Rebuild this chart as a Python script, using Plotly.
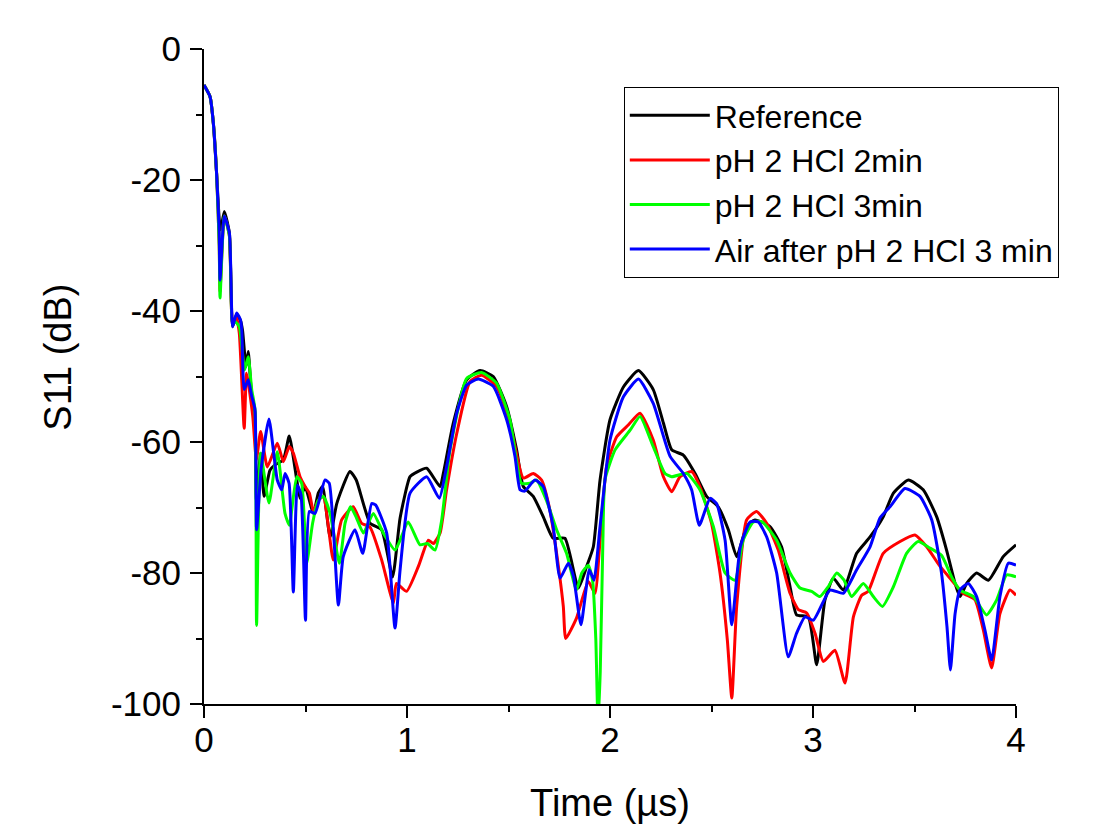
import plotly.graph_objects as go

# ---- data (Time in µs, S11 in dB) ----
ref_x = [0, 0.03, 0.046, 0.062, 0.075, 0.082, 0.1, 0.125, 0.141, 0.161, 0.18, 0.19, 0.207, 0.218, 0.235, 0.251,
         0.258, 0.279, 0.296, 0.325, 0.35, 0.391, 0.42, 0.457, 0.473, 0.498, 0.539, 0.563, 0.584, 0.621, 0.654,
         0.719, 0.75, 0.818, 0.875, 0.929, 0.966, 1.015, 1.048, 1.097, 1.163, 1.179, 1.228, 1.294, 1.36, 1.425,
         1.491, 1.54, 1.573, 1.622, 1.671, 1.72, 1.778, 1.844, 1.885, 1.918, 1.951, 2.0, 2.066, 2.14, 2.213,
         2.263, 2.304, 2.361, 2.419, 2.476, 2.533, 2.583, 2.624, 2.673, 2.714, 2.788, 2.845, 2.887, 2.919,
         2.977, 3.018, 3.059, 3.1, 3.149, 3.215, 3.281, 3.346, 3.396, 3.47, 3.543, 3.609, 3.658, 3.7, 3.724,
         3.757, 3.806, 3.864, 3.937, 4.0]
ref_y = [-5.5, -7.3, -11.3, -19, -26, -27.6, -24.8, -28.1, -42.4, -40.5, -41.5, -43, -48.5, -46.2, -53.1, -55.5,
         -68.9, -61.7, -68.3, -64.3, -63.5, -62.7, -59.1, -65.8, -68.6, -66.8, -70.9, -67.8, -66.8, -74.5, -69.4,
         -64.5, -65.8, -72.4, -73.4, -80.6, -71.6, -65.3, -64.6, -64, -66.8, -64.8, -57.1, -50.5, -49.1, -50,
         -54.6, -61.2, -66.8, -68.3, -71.4, -74.7, -74.7, -82.3, -79, -76, -65.8, -56.6, -51.6, -49.1, -52,
         -57.1, -61.2, -62, -64.8, -68.3, -69.9, -73.4, -77.5, -72.9, -71.9, -72.9, -76, -82.1, -86.4,
         -86.7, -94, -84.1, -80.8, -82.6, -77, -74.5, -71.4, -67.8, -65.8, -67.3, -71.4, -76.5, -81.6, -83.6,
         -81.6, -80, -81.1, -77.5, -75.7]

hcl2_x = [0, 0.03, 0.046, 0.062, 0.075, 0.079, 0.1, 0.125, 0.141, 0.16, 0.174, 0.198, 0.21, 0.24, 0.258, 0.279,
          0.312, 0.361, 0.391, 0.42, 0.44, 0.473, 0.498, 0.519, 0.539, 0.563, 0.588, 0.637, 0.678, 0.735, 0.776,
          0.818, 0.875, 0.933, 0.948, 0.998, 1.056, 1.105, 1.13, 1.163, 1.195, 1.245, 1.31, 1.367, 1.441, 1.507,
          1.573, 1.622, 1.663, 1.704, 1.737, 1.77, 1.782, 1.835, 1.893, 1.926, 1.951, 1.983, 2.033, 2.09, 2.148,
          2.213, 2.263, 2.304, 2.345, 2.402, 2.443, 2.5, 2.542, 2.578, 2.6, 2.624, 2.673, 2.722, 2.772, 2.829,
          2.887, 2.928, 2.969, 3.01, 3.051, 3.108, 3.158, 3.199, 3.24, 3.272, 3.346, 3.429, 3.502, 3.56, 3.626,
          3.683, 3.74, 3.798, 3.839, 3.88, 3.921, 3.97, 4.0]
hcl2_y = [-5.5, -7.3, -11.3, -19, -30, -37, -25.5, -28.5, -42, -41, -43.4, -57.9, -49.5, -56, -62.7, -58.4,
          -63.8, -60.2, -63, -60.7, -61.7, -65.3, -66.8, -67.8, -70.6, -68.9, -68.3, -78, -71.9, -69.9, -72.4,
          -73, -78, -84.6, -81.6, -82.8, -79, -75, -75.5, -73.9, -67.3, -58.7, -50.8, -49.8, -51.5, -57.1,
          -65.5, -64.8, -65.8, -70.4, -77, -85.1, -90, -86.9, -81.3, -83.1, -75, -63.8, -59.2, -57.4, -55.6,
          -59.7, -65.3, -67.6, -65.3, -64.5, -66.8, -72.4, -80, -90.2, -99.1, -85.1, -71.9, -70.6, -72.4, -76.5,
          -83.1, -85.6, -86.1, -89.2, -93.5, -91.8, -96.8, -86.7, -83.4, -82.8, -77, -75.2, -74.2, -76, -79,
          -81.1, -83.1, -84.1, -88.7, -94.5, -86.2, -82.6, -83.4]

hcl3_x = [0, 0.03, 0.046, 0.062, 0.075, 0.079, 0.1, 0.125, 0.141, 0.153, 0.174, 0.2, 0.218, 0.235, 0.251, 0.259,
          0.279, 0.32, 0.361, 0.399, 0.42, 0.457, 0.481, 0.506, 0.535, 0.563, 0.588, 0.621, 0.667, 0.695, 0.722,
          0.75, 0.785, 0.834, 0.883, 0.941, 0.966, 1.006, 1.064, 1.1, 1.138, 1.171, 1.212, 1.294, 1.367, 1.441,
          1.507, 1.564, 1.606, 1.638, 1.687, 1.737, 1.786, 1.835, 1.861, 1.893, 1.914, 1.93, 1.941, 1.952, 1.965,
          1.975, 2.025, 2.099, 2.148, 2.213, 2.271, 2.304, 2.378, 2.443, 2.509, 2.567, 2.616, 2.656, 2.706, 2.75,
          2.821, 2.887, 2.936, 2.993, 3.034, 3.075, 3.117, 3.153, 3.19, 3.248, 3.297, 3.342, 3.396, 3.461, 3.518,
          3.576, 3.633, 3.683, 3.724, 3.79, 3.855, 3.905, 3.954, 4.0]
hcl3_y = [-5.5, -7.3, -11.3, -19, -30, -38, -25.5, -28.5, -42, -41.6, -42.4, -49, -47, -52, -55, -88,
          -61.7, -69.3, -61.5, -70.9, -72.7, -65.3, -66.3, -78.5, -72.4, -68.9, -68.3, -70.9, -78.5, -72.4, -69.9,
          -71.5, -73.9, -70.9, -73.9, -76.5, -75, -72.2, -75.7, -75.5, -76.5, -71.9, -61.2, -50.3, -49.4, -51,
          -56.6, -66.3, -66.3, -65.8, -68.9, -73.4, -77, -82.6, -80, -78.8, -81.1, -90, -103, -95, -75,
          -65.8, -61.2, -58.2, -56.1, -60.7, -64.8, -65.3, -64.8, -67.3, -72.9, -80, -81.1, -75, -72.2, -72.2,
          -75, -80, -82.3, -82.8, -83.6, -82.1, -80, -81.1, -83.6, -81.6, -83.6, -85.1, -82.1, -77, -75.2,
          -76.2, -77.3, -80.6, -82.6, -83.6, -86.4, -84.1, -80.3, -80.6]

air_x = [0, 0.03, 0.046, 0.062, 0.075, 0.079, 0.1, 0.125, 0.141, 0.161, 0.18, 0.186, 0.198, 0.218, 0.235, 0.251,
         0.259, 0.281, 0.32, 0.361, 0.383, 0.399, 0.419, 0.44, 0.46, 0.478, 0.5, 0.519, 0.547, 0.596, 0.617,
         0.662, 0.686, 0.744, 0.782, 0.826, 0.845, 0.9, 0.941, 0.966, 1.015, 1.097, 1.159, 1.195, 1.245, 1.294,
         1.351, 1.425, 1.491, 1.532, 1.557, 1.58, 1.63, 1.671, 1.72, 1.754, 1.795, 1.82, 1.857, 1.898, 1.921,
         1.951, 2.0, 2.066, 2.14, 2.213, 2.296, 2.361, 2.402, 2.44, 2.493, 2.525, 2.567, 2.6, 2.642, 2.69, 2.73,
         2.772, 2.821, 2.878, 2.919, 2.961, 3.002, 3.084, 3.149, 3.215, 3.281, 3.33, 3.379, 3.453, 3.527, 3.585,
         3.633, 3.66, 3.677, 3.7, 3.724, 3.765, 3.806, 3.847, 3.88, 3.921, 3.962, 4.0]
air_y = [-5.5, -7.3, -11.3, -19, -28, -35.3, -25.5, -28.1, -42.4, -40.3, -41.4, -42.9, -52, -50.5, -53, -55,
         -73.4, -64.3, -56.5, -65.8, -67.3, -64.8, -66.3, -82.9, -66.6, -68.1, -87.2, -70.6, -70.9, -65.8, -66.3,
         -84.9, -77.5, -73.4, -77, -69.4, -69.6, -73.9, -88.4, -79.5, -67.8, -65.3, -68.6, -63.8, -55.6, -51.3,
         -50.4, -51.5, -56.6, -62.2, -67.3, -67.5, -65.8, -66.8, -72.9, -80.8, -78.5, -80.5, -87.9, -79.5, -81.1,
         -72.9, -59.7, -53.1, -50.4, -54.1, -62.2, -64.8, -67.3, -72.7, -68.6, -69.4, -75, -87.9, -76, -72.2, -72.2,
         -74.5, -80, -92.8, -89.2, -86.7, -87.2, -82.6, -83.1, -79.5, -76, -71.6, -69.9, -67.1, -68.3, -71.9,
         -80, -88.2, -94.8, -86.2, -82.6, -81.6, -83.6, -88.7, -93.3, -83.6, -78.5, -78.8]

series_names = ["Reference", "pH 2 HCl 2min", "pH 2 HCl 3min", "Air after pH 2 HCl 3 min"]
series_colors = ["#000000", "#ff0000", "#00ff00", "#0000ff"]
series_x = [ref_x, hcl2_x, hcl3_x, air_x]
series_y = [ref_y, hcl2_y, hcl3_y, air_y]

x_tickvals = [0, 1, 2, 3, 4]
x_ticktext = ["0", "1", "2", "3", "4"]
y_tickvals = [0, -20, -40, -60, -80, -100]
y_ticktext = ["0", "-20", "-40", "-60", "-80", "-100"]

FONT = "Arial"

fig = go.Figure()
for name, color, xs, ys in zip(series_names, series_colors, series_x, series_y):
    fig.add_trace(go.Scatter(x=xs, y=ys, mode="lines", name=name,
                             line=dict(color=color, width=3, shape="spline", smoothing=0.5),
                             cliponaxis=False))

axis_common = dict(showline=True, linecolor="black", linewidth=2, mirror=False,
                   ticks="outside", ticklen=12, tickwidth=2, tickcolor="black",
                   showgrid=False, zeroline=False, automargin=False,
                   tickfont=dict(family=FONT, size=35, color="black"))

fig.update_layout(
    width=1085, height=816,
    margin=dict(l=196, r=77, t=41, b=120),
    paper_bgcolor="white", plot_bgcolor="white",
    font=dict(family=FONT, color="black"),
    xaxis=dict(range=[0, 4], tickvals=x_tickvals, ticktext=x_ticktext, ticklabelstandoff=-8,
               minor=dict(tickvals=[0.5, 1.5, 2.5, 3.5], ticks="outside", ticklen=6, tickwidth=2, tickcolor="black"),
               title=dict(text="Time (µs)", font=dict(family=FONT, size=38), standoff=36),
               **axis_common),
    yaxis=dict(range=[-100, 0], tickvals=y_tickvals, ticktext=y_ticktext, ticklabelstandoff=2,
               minor=dict(tickvals=[-10, -30, -50, -70, -90], ticks="outside", ticklen=6, tickwidth=2, tickcolor="black"),
               **axis_common),
    annotations=[dict(text="S11 (dB)", textangle=-90, showarrow=False,
                      xref="paper", yref="paper", x=-0.18, y=0.53,
                      xanchor="center", yanchor="middle",
                      font=dict(family=FONT, size=38, color="black"))],
    legend=dict(x=0.517, y=0.942, xanchor="left", yanchor="top",
                bordercolor="black", borderwidth=1, bgcolor="white",
                font=dict(family=FONT, size=32, color="black"),
                itemwidth=80, tracegroupgap=0),
    showlegend=True,
)

fig.write_html("out.html")
